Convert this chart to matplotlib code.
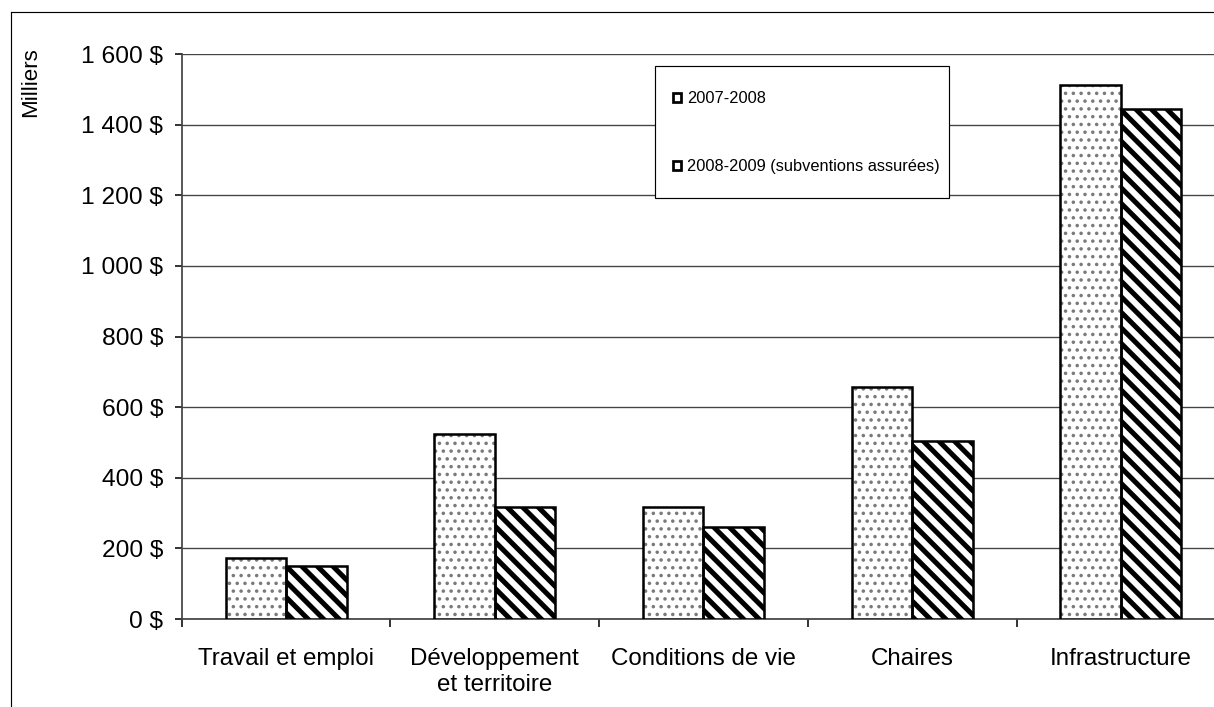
import numpy as np
import matplotlib
matplotlib.use('Agg')
import matplotlib.pyplot as plt
from matplotlib.patches import Rectangle, Patch
from matplotlib.lines import Line2D

# Data (milliers de $)
categories = ['Travail et emploi', 'Développement\net territoire', 'Conditions de vie',
              'Chaires', 'Infrastructure']
series_names = ['2007-2008', '2008-2009 (subventions assurées)']
values_0708 = [172, 524, 317, 658, 1512]
values_0809 = [150, 317, 260, 503, 1445]
y_ticks = [0, 200, 400, 600, 800, 1000, 1200, 1400, 1600]
y_tick_labels = ['0 $', '200 $', '400 $', '600 $', '800 $', '1 000 $', '1 200 $', '1 400 $', '1 600 $']

plt.rcParams['font.family'] = ['Liberation Sans', 'DejaVu Sans']

DPI = 140
fig = plt.figure(figsize=(1214 / DPI, 707 / DPI), dpi=DPI)
fig.patch.set_facecolor('white')

# outer frame: only left and top edges are inside the picture
fx, fy = 11 / 1214, 1 - 12 / 707
fig.add_artist(Line2D([fx, fx], [0, fy], transform=fig.transFigure, color='black', linewidth=0.6))
fig.add_artist(Line2D([fx, 1], [fy, fy], transform=fig.transFigure, color='black', linewidth=0.6))

ax = fig.add_axes([181.7 / 1214, 88 / 707, 1043.5 / 1214, 565 / 707])

x = np.arange(len(categories))
w = 0.29

# dotted series: pattern first, then outline
ax.bar(x - w / 2, values_0708, w, facecolor='white', edgecolor='#7a7a7a',
       hatch='...', linewidth=0, zorder=3)
ax.bar(x - w / 2, values_0708, w, fill=False, edgecolor='black', linewidth=1.3, zorder=4)

# striped series
stripes = ax.bar(x + w / 2, values_0809, w, facecolor='white', edgecolor='black',
                 hatch='\\\\\\', linewidth=0, zorder=3)
for p in stripes:
    if hasattr(p, 'set_hatch_linewidth'):
        p.set_hatch_linewidth(2.6)
ax.bar(x + w / 2, values_0809, w, fill=False, edgecolor='black', linewidth=1.3, zorder=4)

ax.set_xlim(-0.5, len(categories) - 0.5)
ax.set_ylim(0, 1600)
ax.set_yticks(y_ticks)
ax.set_yticklabels(y_tick_labels, fontsize=12.6)
ax.set_xticks(x)
ax.set_xticklabels(categories, fontsize=12.4)
ax.set_xticks(np.arange(-0.5, len(categories), 1.0), minor=True)
ax.tick_params(axis='x', which='major', length=0, pad=15)
ax.tick_params(axis='x', which='minor', length=4, width=0.8, direction='out', color='black')
ax.tick_params(axis='y', length=3.5, width=0.8, pad=6, color='black')

ax.grid(axis='y', color='#444444', linewidth=0.7, zorder=0)
ax.set_axisbelow(True)
for s in ['top', 'right']:
    ax.spines[s].set_visible(False)
ax.spines['left'].set_color('#444444')
ax.spines['bottom'].set_color('#444444')
ax.spines['left'].set_linewidth(0.9)
ax.spines['bottom'].set_linewidth(0.9)

fig.text(31 / 1214, 1 - 82 / 707, 'Milliers', rotation=90, ha='center', va='center', fontsize=11.5)

# legend box
fig.patches.append(Rectangle((655 / 1214, 1 - 198 / 707), 294 / 1214, 132 / 707,
                             transform=fig.transFigure, facecolor='white', edgecolor='black',
                             linewidth=0.6, zorder=5))
handles = [Patch(facecolor='white', edgecolor='black', linewidth=1.4),
           Patch(facecolor='white', edgecolor='black', linewidth=1.4)]
leg = fig.legend(handles, series_names, loc='upper left',
                 bbox_to_anchor=(673 / 1214, 1 - 91 / 707), frameon=False,
                 fontsize=8.4, handlelength=0.5, handleheight=0.5, handletextpad=0.35,
                 labelspacing=3.25, borderpad=0, borderaxespad=0)
leg.set_zorder(6)

fig.savefig('out.png', dpi=DPI)
